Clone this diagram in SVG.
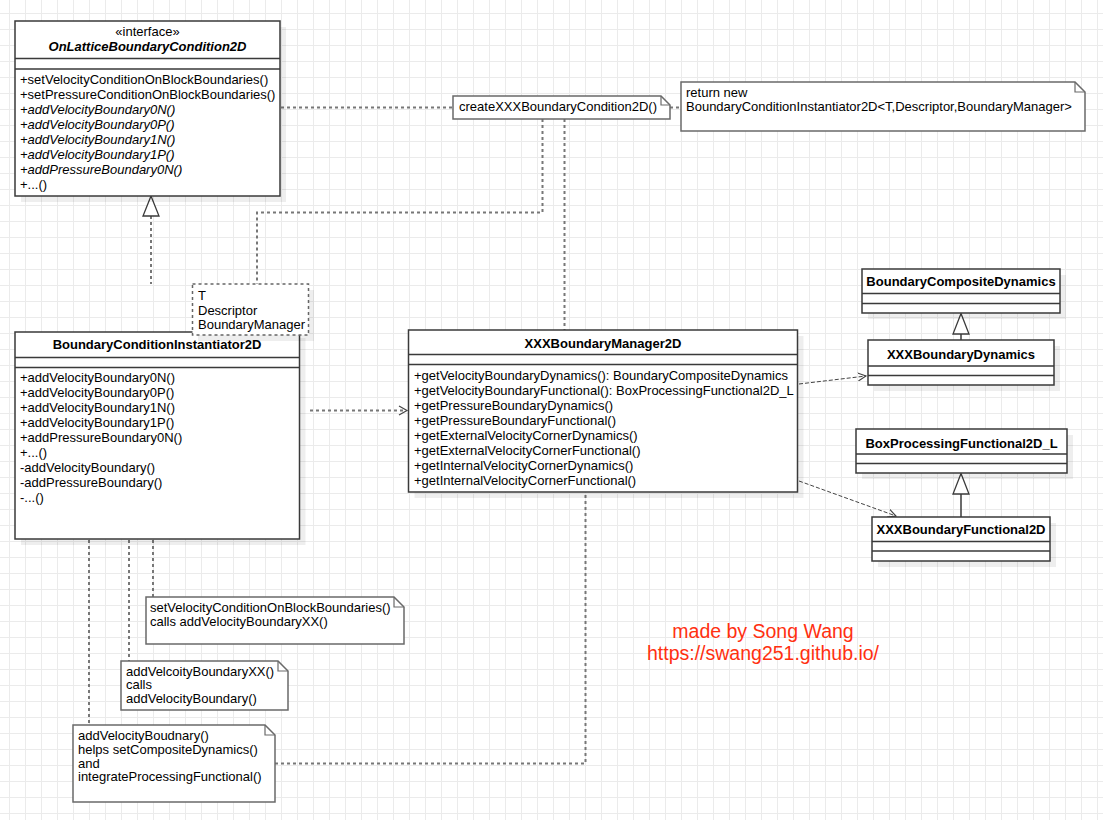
<svg xmlns="http://www.w3.org/2000/svg" width="1103" height="820" viewBox="0 0 1103 820">
<style>
  text { font-family: "Liberation Sans", Arial, sans-serif; font-size: 13px; fill: #000; }
  .b { font-weight: bold; }
  .bi { font-weight: bold; font-style: italic; }
  .i { font-style: italic; }
  .c { text-anchor: middle; }
  .box { fill: #fff; stroke: #3a3a3a; stroke-width: 1.5; }
  .sep { stroke: #3a3a3a; stroke-width: 1.5; fill: none; }
  .shadow { fill: #000; fill-opacity: 0.065; }
  .note { fill: #fff; stroke: #6a6a6a; stroke-width: 1.5; }
  .fold { fill: none; stroke: #6a6a6a; stroke-width: 1.2; }
  .tmpl { fill: #fff; stroke: #666; stroke-width: 1.5; stroke-dasharray: 3 3; }
  .dot { fill: none; stroke: #777; stroke-width: 2; stroke-dasharray: 3 3; }
  .dep { fill: none; stroke: #444; stroke-width: 1; stroke-dasharray: 4 2; }
  .solid { fill: none; stroke: #3a3a3a; stroke-width: 1.5; }
  .tri { fill: #fff; stroke: #3a3a3a; stroke-width: 1.3; }
  .open { fill: none; stroke: #444; stroke-width: 1.2; }
  .wm { font-size: 19.5px; fill: #ff3010; text-anchor: middle; }
</style>
<defs>
  <pattern id="grid" x="9" y="13" width="16" height="16" patternUnits="userSpaceOnUse">
    <path d="M0.5 0 V16 M0 0.5 H16" stroke="#ebebeb" stroke-width="1" fill="none"/>
  </pattern>
  <marker id="openArrow" viewBox="0 0 10 10" refX="9" refY="5" markerWidth="9" markerHeight="9" markerUnits="userSpaceOnUse" orient="auto">
    <path d="M0 0.5 L9 5 L0 9.5" fill="none" stroke="#444" stroke-width="1.3"/>
  </marker>
</defs>
<rect width="1103" height="820" fill="#fff"/>
<rect width="1103" height="820" fill="url(#grid)"/>

<!-- connectors -->
<g id="connectors">
  <path class="dot" d="M281 107.5 H453"/>
  <path class="dot" d="M670 107.5 H681"/>
  <path class="dot" d="M542.5 119 V212.5 H257 V284"/>
  <path class="dot" d="M564.5 119 V330"/>
  <path class="dot" d="M151 216 V284"/>
  <path class="dot" d="M310 410.5 H405" />
  <path class="open" d="M399 406 L407 410.5 L399 415"/>
  <path class="dep" d="M799 384 L866 376" marker-end="url(#openArrow)"/>
  <path class="dep" d="M799 481 L896 516" marker-end="url(#openArrow)"/>
  <path class="dot" d="M153 540 V597"/>
  <path class="dot" d="M129 540 V661"/>
  <path class="dot" d="M89 540 V725"/>
  <path class="dot" d="M275 763.5 H585.5 V493"/>
  <path class="solid" d="M961 334 V340"/>
  <path class="solid" d="M961 494 V517"/>
  <path class="tri" d="M961 313.5 L969 334 L953 334 Z"/>
  <path class="tri" d="M961 473.5 L969 494 L953 494 Z"/>
  <path class="tri" d="M151 196 L159 216 L143 216 Z"/>
</g>

<!-- OnLatticeBoundaryCondition2D -->
<g id="OnLatticeBoundaryCondition2D">
  <rect class="shadow" x="21" y="27" width="265" height="175"/>
  <rect class="box" x="15" y="21" width="265" height="175"/>
  <path class="sep" d="M15 58.5 H280 M15 69 H280"/>
  <text class="c" x="147.5" y="36">«interface»</text>
  <text class="c bi" x="147.5" y="51">OnLatticeBoundaryCondition2D</text>
  <text x="20" y="84">+setVelocityConditionOnBlockBoundaries()</text>
  <text x="20" y="99">+setPressureConditionOnBlockBoundaries()</text>
  <text class="i" x="20" y="114">+addVelocityBoundary0N()</text>
  <text class="i" x="20" y="129">+addVelocityBoundary0P()</text>
  <text class="i" x="20" y="144">+addVelocityBoundary1N()</text>
  <text class="i" x="20" y="159">+addVelocityBoundary1P()</text>
  <text class="i" x="20" y="174">+addPressureBoundary0N()</text>
  <text x="20" y="189">+...()</text>
</g>

<!-- createXXXBoundaryCondition2D note -->
<g id="noteCreate">
  <path class="note" d="M453 96 H661 L670 105 V119 H453 Z"/>
  <path class="fold" d="M661 96 V105 H670"/>
  <text x="459" y="111">createXXXBoundaryCondition2D()</text>
</g>

<!-- return new note -->
<g id="noteReturn">
  <path class="note" d="M681 82 H1075 L1085 92 V131 H681 Z"/>
  <path class="fold" d="M1075 82 V92 H1085"/>
  <text x="686" y="97">return new</text>
  <text x="686" y="111">BoundaryConditionInstantiator2D&lt;T,Descriptor,BoundaryManager&gt;</text>
</g>

<!-- BoundaryConditionInstantiator2D -->
<g id="BoundaryConditionInstantiator2D">
  <rect class="shadow" x="21" y="338" width="284.5" height="207"/>
  <rect class="box" x="15" y="332" width="284.5" height="207"/>
  <path class="sep" d="M15 357.5 H299.5 M15 367.5 H299.5"/>
  <text class="c b" x="157" y="349">BoundaryConditionInstantiator2D</text>
  <text x="20" y="382">+addVelocityBoundary0N()</text>
  <text x="20" y="397">+addVelocityBoundary0P()</text>
  <text x="20" y="412">+addVelocityBoundary1N()</text>
  <text x="20" y="427">+addVelocityBoundary1P()</text>
  <text x="20" y="442">+addPressureBoundary0N()</text>
  <text x="20" y="457">+...()</text>
  <text x="20" y="472">-addVelocityBoundary()</text>
  <text x="20" y="487">-addPressureBoundary()</text>
  <text x="20" y="502">-...()</text>
</g>

<!-- template parameters -->
<g id="templateParams">
  <rect class="shadow" x="198" y="290" width="116" height="51"/>
  <rect class="tmpl" x="192.5" y="284" width="116" height="51"/>
  <text x="198" y="300">T</text>
  <text x="198" y="314.5">Descriptor</text>
  <text x="198" y="329">BoundaryManager</text>
</g>

<!-- XXXBoundaryManager2D -->
<g id="XXXBoundaryManager2D">
  <rect class="shadow" x="414.5" y="336" width="389" height="162"/>
  <rect class="box" x="408.5" y="330" width="389" height="162"/>
  <path class="sep" d="M408.5 354.5 H797.5 M408.5 364.5 H797.5"/>
  <text class="c b" x="603" y="347.5">XXXBoundaryManager2D</text>
  <text x="414" y="380">+getVelocityBoundaryDynamics(): BoundaryCompositeDynamics</text>
  <text x="414" y="395">+getVelocityBoundaryFunctional(): BoxProcessingFunctional2D_L</text>
  <text x="414" y="410">+getPressureBoundaryDynamics()</text>
  <text x="414" y="425">+getPressureBoundaryFunctional()</text>
  <text x="414" y="440">+getExternalVelocityCornerDynamics()</text>
  <text x="414" y="455">+getExternalVelocityCornerFunctional()</text>
  <text x="414" y="470">+getInternalVelocityCornerDynamics()</text>
  <text x="414" y="485">+getInternalVelocityCornerFunctional()</text>
</g>

<!-- BoundaryCompositeDynamics -->
<g id="BoundaryCompositeDynamics">
  <rect class="shadow" x="868" y="275" width="198" height="44"/>
  <rect class="box" x="862" y="269" width="198" height="44"/>
  <path class="sep" d="M862 293.5 H1060 M862 303.5 H1060"/>
  <text class="c b" x="961" y="286">BoundaryCompositeDynamics</text>
</g>

<!-- XXXBoundaryDynamics -->
<g id="XXXBoundaryDynamics">
  <rect class="shadow" x="874" y="346" width="186" height="45"/>
  <rect class="box" x="868" y="340" width="186" height="45"/>
  <path class="sep" d="M868 366 H1054 M868 375.5 H1054"/>
  <text class="c b" x="961" y="358.5">XXXBoundaryDynamics</text>
</g>

<!-- BoxProcessingFunctional2D_L -->
<g id="BoxProcessingFunctional2D_L">
  <rect class="shadow" x="862" y="435" width="211" height="44"/>
  <rect class="box" x="856" y="429" width="211" height="44"/>
  <path class="sep" d="M856 454 H1067 M856 463.5 H1067"/>
  <text class="c b" x="961.5" y="447.5">BoxProcessingFunctional2D_L</text>
</g>

<!-- XXXBoundaryFunctional2D -->
<g id="XXXBoundaryFunctional2D">
  <rect class="shadow" x="878" y="523" width="178" height="44"/>
  <rect class="box" x="872" y="517" width="178" height="44"/>
  <path class="sep" d="M872 541.5 H1050 M872 551 H1050"/>
  <text class="c b" x="961" y="534">XXXBoundaryFunctional2D</text>
</g>

<!-- notes at bottom -->
<g id="noteSetVelocity">
  <path class="note" d="M146 597 H394 L404 607 V644 H146 Z"/>
  <path class="fold" d="M394 597 V607 H404"/>
  <text x="150" y="612">setVelocityConditionOnBlockBoundaries()</text>
  <text x="150" y="625.5">calls addVelocityBoundaryXX()</text>
</g>

<g id="noteAddVelocityXX">
  <path class="note" d="M121 661 H278 L288 671 V710 H121 Z"/>
  <path class="fold" d="M278 661 V671 H288"/>
  <text x="126" y="675.5">addVelcoityBoundaryXX()</text>
  <text x="126" y="689">calls</text>
  <text x="126" y="702.5">addVelocityBoundary()</text>
</g>

<g id="noteAddVelocity">
  <path class="note" d="M73 725 H265 L275 735 V802 H73 Z"/>
  <path class="fold" d="M265 725 V735 H275"/>
  <text x="78" y="740">addVelocityBoudnary()</text>
  <text x="78" y="754">helps setCompositeDynamics()</text>
  <text x="78" y="767.5">and</text>
  <text x="78" y="781">integrateProcessingFunctional()</text>
</g>

<!-- watermark -->
<g id="watermark">
  <text class="wm" x="763" y="638">made by Song Wang</text>
  <text class="wm" x="763" y="660">https://swang251.github.io/</text>
</g>
</svg>
